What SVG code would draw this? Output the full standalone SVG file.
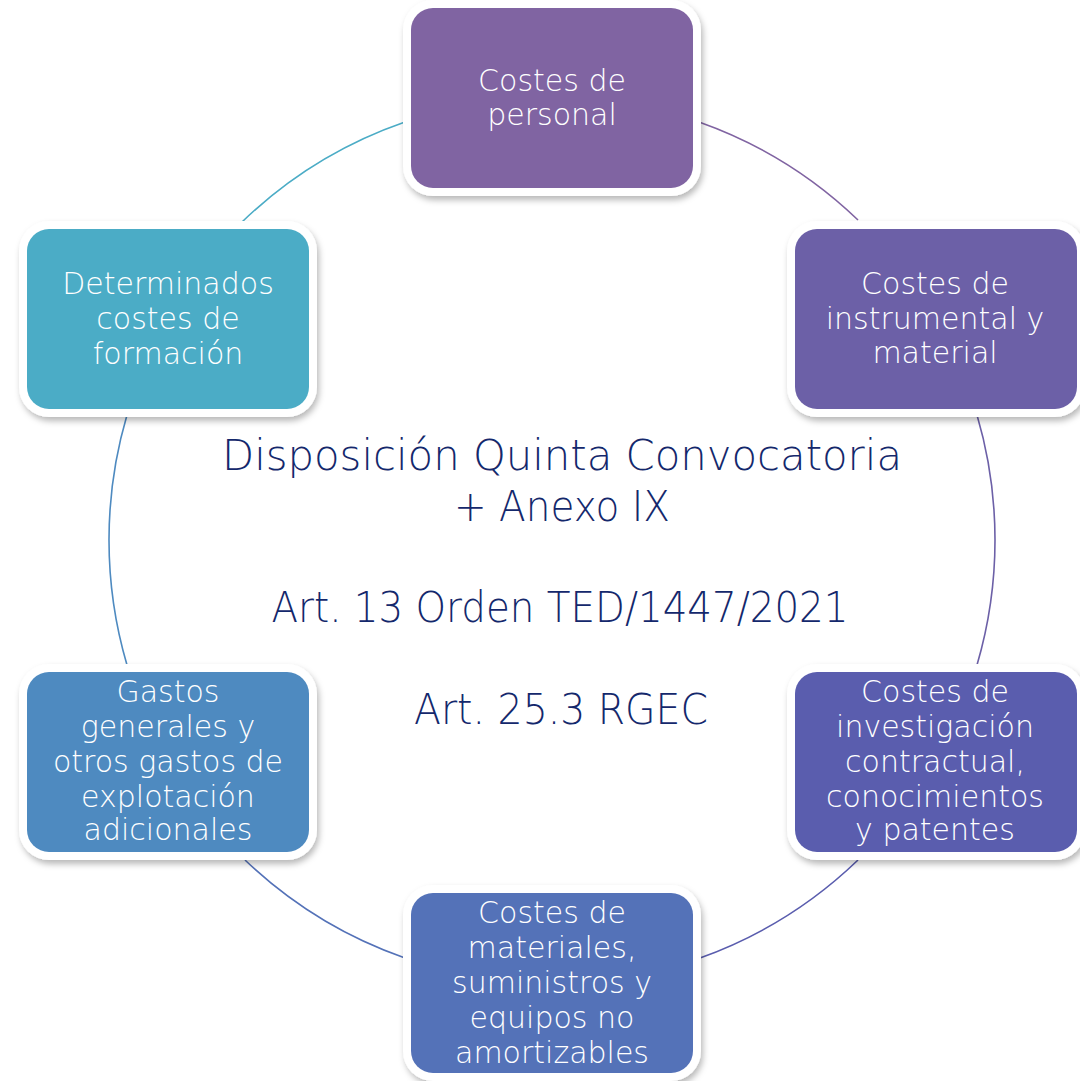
<svg xmlns="http://www.w3.org/2000/svg" width="1080" height="1081" viewBox="0 0 1080 1081">
<defs>
<filter id="sh" x="-10%" y="-10%" width="120%" height="125%">
<feDropShadow dx="2" dy="4" stdDeviation="3" flood-color="#000" flood-opacity="0.28"/>
</filter>
<style>
.arc{fill:none;stroke-width:1.6}
.frame{fill:#fff;filter:url(#sh)}
.lbl{font-family:"DejaVu Sans",sans-serif;font-weight:200;font-size:30px;fill:#fff;text-anchor:middle}
.ctr{font-family:"DejaVu Sans",sans-serif;font-weight:200;font-size:42px;fill:#14286C;text-anchor:middle}
</style>
</defs>
<rect width="1080" height="1081" fill="#fff"/>
<g id="connectors">
<path class="arc" stroke="#4BACC6" d="M242,222 A443,443 0 0 1 405,122"/>
<path class="arc" stroke="#8064A2" d="M699,122 A443,443 0 0 1 858,220"/>
<path class="arc" stroke="#6C60A7" d="M977,415 A443,443 0 0 1 977,665"/>
<path class="arc" stroke="#5A5DAE" d="M858,860 A443,443 0 0 1 700,958"/>
<path class="arc" stroke="#5472B8" d="M405,958 A443,443 0 0 1 245,860"/>
<path class="arc" stroke="#4E8AC0" d="M127,665 A443,443 0 0 1 127,415"/>
</g>
<g id="center-text">
<text class="ctr" x="562" y="470" textLength="680" lengthAdjust="spacingAndGlyphs">Disposición Quinta Convocatoria</text>
<text class="ctr" x="562" y="521" textLength="216" lengthAdjust="spacingAndGlyphs">+ Anexo IX</text>
<text class="ctr" x="560" y="622" textLength="577" lengthAdjust="spacingAndGlyphs">Art. 13 Orden TED/1447/2021</text>
<text class="ctr" x="561" y="724" textLength="294" lengthAdjust="spacingAndGlyphs">Art. 25.3 RGEC</text>
</g>
<g id="node-personal">
<rect class="frame" x="403" y="0" width="298" height="196" rx="30"/>
<rect x="411" y="8" width="282" height="180" rx="22" fill="#8064A2"/>
<text class="lbl" x="552" y="91">Costes de</text>
<text class="lbl" x="552" y="125">personal</text>
</g>
<g id="node-instrumental">
<rect class="frame" x="787" y="221" width="298" height="196" rx="30"/>
<rect x="795" y="229" width="282" height="180" rx="22" fill="#6C60A7"/>
<text class="lbl" x="935" y="294">Costes de</text>
<text class="lbl" x="935" y="329">instrumental y</text>
<text class="lbl" x="935" y="363">material</text>
</g>
<g id="node-investigacion">
<rect class="frame" x="787" y="664" width="298" height="196" rx="30"/>
<rect x="795" y="672" width="282" height="180" rx="22" fill="#5A5DAE"/>
<text class="lbl" x="935" y="702">Costes de</text>
<text class="lbl" x="935" y="737">investigación</text>
<text class="lbl" x="935" y="772">contractual,</text>
<text class="lbl" x="935" y="807">conocimientos</text>
<text class="lbl" x="935" y="840">y patentes</text>
</g>
<g id="node-materiales">
<rect class="frame" x="403" y="885" width="298" height="196" rx="30"/>
<rect x="411" y="893" width="282" height="180" rx="22" fill="#5472B8"/>
<text class="lbl" x="552" y="923">Costes de</text>
<text class="lbl" x="552" y="958">materiales,</text>
<text class="lbl" x="552" y="993">suministros y</text>
<text class="lbl" x="552" y="1028">equipos no</text>
<text class="lbl" x="552" y="1063">amortizables</text>
</g>
<g id="node-gastos">
<rect class="frame" x="19" y="664" width="298" height="196" rx="30"/>
<rect x="27" y="672" width="282" height="180" rx="22" fill="#4E8AC0"/>
<text class="lbl" x="168" y="702">Gastos</text>
<text class="lbl" x="168" y="737">generales y</text>
<text class="lbl" x="168" y="772">otros gastos de</text>
<text class="lbl" x="168" y="807">explotación</text>
<text class="lbl" x="168" y="840">adicionales</text>
</g>
<g id="node-formacion">
<rect class="frame" x="19" y="221" width="298" height="196" rx="30"/>
<rect x="27" y="229" width="282" height="180" rx="22" fill="#4BACC6"/>
<text class="lbl" x="168" y="294">Determinados</text>
<text class="lbl" x="168" y="329">costes de</text>
<text class="lbl" x="168" y="364">formación</text>
</g>
</svg>
